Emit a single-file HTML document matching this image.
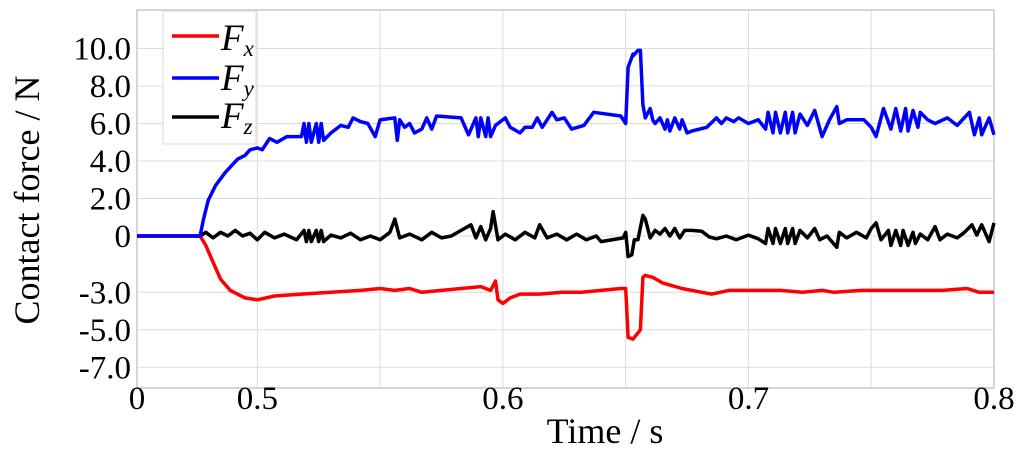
<!DOCTYPE html>
<html><head><meta charset="utf-8"><style>
body{margin:0;background:#fff}
svg text{font-family:"Liberation Serif",serif}
</style></head><body>
<svg id="chart" width="1024" height="452" viewBox="0 0 1024 452" xmlns="http://www.w3.org/2000/svg">
<rect x="0" y="0" width="1024" height="452" fill="#fff"/>
<g id="grid"></g>
<rect x="137" y="10" width="857" height="378" fill="none" stroke="#c8c8c8" stroke-width="1.5"/>
<g id="series"></g>
<g id="ticks"></g>
<text transform="translate(39,200) rotate(-90)" text-anchor="middle" font-size="36">Contact force / N</text>
<text x="605" y="443" text-anchor="middle" font-size="36">Time / s</text>
<g>
<rect x="163" y="11" width="93" height="133" fill="#fff" stroke="#d8d8d8" stroke-width="1"/>
<g><line x1="172" y1="36" x2="219" y2="36" stroke="#f00" stroke-width="3.5"/><text x="221" y="50" font-size="37" font-style="italic">F<tspan font-size="23" dy="6">x</tspan></text></g>
<g><line x1="172" y1="78" x2="219" y2="78" stroke="#00f" stroke-width="3.5"/><text x="221" y="90" font-size="37" font-style="italic">F<tspan font-size="23" dy="6">y</tspan></text></g>
<g><line x1="172" y1="117" x2="219" y2="117" stroke="#000" stroke-width="3.5"/><text x="221" y="128" font-size="37" font-style="italic">F<tspan font-size="23" dy="6">z</tspan></text></g>
</g>
</svg>
<script>
const fyT=[0.451,0.4767,0.478,0.480,0.483,0.487,0.492,0.495,0.497,0.500,0.502,0.505,0.508,0.512,0.518,0.519,0.520,0.521,0.522,0.524,0.525,0.526,0.527,0.530,0.534,0.537,0.539,0.542,0.545,0.548,0.550,0.556,0.557,0.558,0.560,0.562,0.564,0.567,0.569,0.571,0.573,0.583,0.586,0.589,0.590,0.591,0.593,0.594,0.595,0.597,0.601,0.603,0.607,0.609,0.612,0.614,0.616,0.620,0.622,0.625,0.628,0.633,0.637,0.648,0.650,0.651,0.653,0.653,0.655,0.656,0.657,0.658,0.660,0.661,0.662,0.664,0.666,0.667,0.668,0.670,0.672,0.673,0.675,0.677,0.683,0.687,0.689,0.691,0.694,0.696,0.700,0.704,0.707,0.708,0.710,0.711,0.713,0.715,0.716,0.718,0.719,0.721,0.724,0.727,0.730,0.733,0.736,0.737,0.740,0.747,0.750,0.752,0.755,0.758,0.760,0.762,0.764,0.765,0.767,0.769,0.770,0.773,0.776,0.781,0.785,0.790,0.792,0.794,0.795,0.798,0.800];
const fyV=[0,0,0.85,1.9,2.7,3.4,4.1,4.3,4.6,4.7,4.6,5.2,5.0,5.3,5.3,6.0,5.0,6.0,5.0,6.0,5.0,6.0,5.1,5.5,5.9,5.8,6.3,6.1,6.0,5.3,6.2,6.3,5.1,6.2,5.8,6.0,5.5,5.7,6.3,5.7,6.4,6.3,5.4,6.3,5.3,6.3,5.3,6.3,5.3,5.9,6.3,5.8,5.5,5.8,5.8,6.3,5.8,6.6,6.2,6.3,5.7,5.9,6.6,6.4,6.0,9.0,9.7,9.6,9.9,9.9,7.0,6.3,6.8,6.2,6.0,6.3,5.7,6.2,5.6,6.3,5.7,6.2,5.5,5.6,5.8,6.3,6.0,6.3,6.1,6.3,6.0,6.2,5.7,6.6,5.5,6.6,5.5,6.6,5.5,6.6,5.5,6.5,5.9,6.7,5.3,6.2,6.9,6.0,6.2,6.2,5.8,5.3,6.8,5.7,6.8,5.6,6.8,5.6,6.7,5.8,6.6,6.2,6.0,6.3,5.9,6.6,5.4,6.3,5.4,6.3,5.4];
const fzT=[0.451,0.4767,0.479,0.482,0.485,0.488,0.491,0.494,0.497,0.500,0.503,0.507,0.511,0.516,0.519,0.520,0.521,0.522,0.524,0.525,0.526,0.527,0.530,0.534,0.538,0.542,0.546,0.550,0.554,0.556,0.558,0.562,0.567,0.571,0.575,0.579,0.583,0.587,0.589,0.591,0.593,0.595,0.596,0.598,0.601,0.605,0.609,0.613,0.615,0.618,0.622,0.626,0.630,0.634,0.638,0.640,0.649,0.650,0.651,0.6525,0.6535,0.655,0.657,0.658,0.660,0.662,0.664,0.666,0.668,0.670,0.672,0.674,0.677,0.681,0.684,0.687,0.691,0.695,0.700,0.704,0.707,0.708,0.710,0.711,0.713,0.715,0.716,0.718,0.719,0.721,0.724,0.727,0.729,0.732,0.736,0.737,0.740,0.744,0.748,0.750,0.752,0.754,0.757,0.758,0.760,0.762,0.763,0.765,0.767,0.768,0.770,0.773,0.776,0.778,0.781,0.785,0.788,0.791,0.793,0.795,0.798,0.800];
const fzV=[0,0,0.2,-0.1,0.2,0,0.3,0,0.15,-0.2,0.2,-0.1,0.1,-0.2,0.3,-0.3,0.3,-0.3,0.3,-0.3,0.3,-0.3,0.05,-0.1,0.15,-0.2,0,-0.2,0.2,0.9,-0.1,0.1,-0.2,0.2,-0.1,0,0.3,0.6,-0.1,0.5,-0.2,0.4,1.3,-0.2,0.1,-0.2,0.2,-0.1,0.6,-0.1,0.1,-0.2,0.1,-0.2,0,-0.3,-0.1,0.2,-1.1,-1.0,-0.2,-0.2,1.1,0.9,-0.1,0.3,0.1,0.4,0,0.4,-0.1,0.3,0.3,0.25,-0.05,-0.15,0,-0.2,0.05,-0.15,-0.4,0.4,-0.4,0.4,-0.4,0.4,-0.4,0.4,-0.4,0.3,-0.1,0.4,-0.2,0,-0.6,0.2,-0.1,0.2,-0.1,0.4,0.7,-0.2,0.3,-0.5,0.3,-0.5,0.3,-0.5,0.2,-0.4,0.1,-0.2,0.5,-0.2,0.1,-0.1,0.2,0.6,0.05,0.6,-0.3,0.7];
const fxT=[0.451,0.4767,0.479,0.482,0.485,0.489,0.495,0.500,0.507,0.518,0.530,0.542,0.550,0.556,0.562,0.567,0.575,0.583,0.591,0.595,0.597,0.598,0.600,0.603,0.607,0.615,0.624,0.632,0.640,0.648,0.650,0.651,0.653,0.656,0.657,0.658,0.661,0.665,0.673,0.681,0.685,0.692,0.701,0.713,0.722,0.730,0.735,0.746,0.762,0.779,0.789,0.794,0.800];
const fxV=[0,0,-0.5,-1.4,-2.3,-2.9,-3.3,-3.4,-3.2,-3.1,-3.0,-2.9,-2.8,-2.9,-2.8,-3.0,-2.9,-2.8,-2.7,-2.9,-2.4,-3.4,-3.6,-3.3,-3.1,-3.1,-3.0,-3.0,-2.9,-2.8,-2.8,-5.4,-5.5,-5.0,-2.2,-2.1,-2.2,-2.5,-2.8,-3.0,-3.1,-2.9,-2.9,-2.9,-3.0,-2.9,-3.0,-2.9,-2.9,-2.9,-2.8,-3.0,-3.0];
const yTickVals=[10,8,6,4,2,0,-3,-5,-7];
const yTickLabels=["10.0","8.0","6.0","4.0","2.0","0","-3.0","-5.0","-7.0"];
const xGridVals=[0.5,0.55,0.6,0.65,0.7,0.75,0.8];
const xTickVals=[0.451,0.5,0.6,0.7,0.8];
const xTickLabels=["0","0.5","0.6","0.7","0.8"];
const T0=0.451,T1=0.8,X0=137,X1=994;
function xs(t){return X0+(t-T0)/(T1-T0)*(X1-X0);}
function ys(v){return 236-v*18.75;}
const NS="http://www.w3.org/2000/svg";
function mk(tag,attrs,parent){const e=document.createElementNS(NS,tag);for(const k in attrs)e.setAttribute(k,attrs[k]);parent.appendChild(e);return e;}
const grid=document.getElementById('grid'),ticks=document.getElementById('ticks'),series=document.getElementById('series');
yTickVals.forEach((v,i)=>{
  const g=mk('line',{x1:X0,x2:X1,y1:ys(v),y2:ys(v),stroke:'#dcdcdc','stroke-width':1},grid);
  
  
  const t=mk('text',{x:131,y:ys(v)+11,'text-anchor':'end','font-size':33},ticks);
  t.textContent=yTickLabels[i];
  
  
});
xGridVals.forEach(v=>{
  const g=mk('line',{x1:xs(v),x2:xs(v),y1:10,y2:388,stroke:'#dcdcdc','stroke-width':1},grid);
  
  
});
xTickVals.forEach((v,i)=>{
  const t=mk('text',{x:xs(v),y:409,'text-anchor':'middle','font-size':33},ticks);
  t.textContent=xTickLabels[i];
  
  
});
function line(T,V,color,name){
  const d=T.map((t,i)=>(i?'L':'M')+xs(t).toFixed(1)+','+ys(V[i]).toFixed(1)).join('');
  const p=mk('path',{d:d,fill:'none',stroke:color,'stroke-width':3.5,'stroke-linejoin':'round'},series);
  
  
}
line(fxT,fxV,'#f00','series-fx');
line(fzT,fzV,'#000','series-fz');
line(fyT,fyV,'#00f','series-fy');
</script>
</body></html>
